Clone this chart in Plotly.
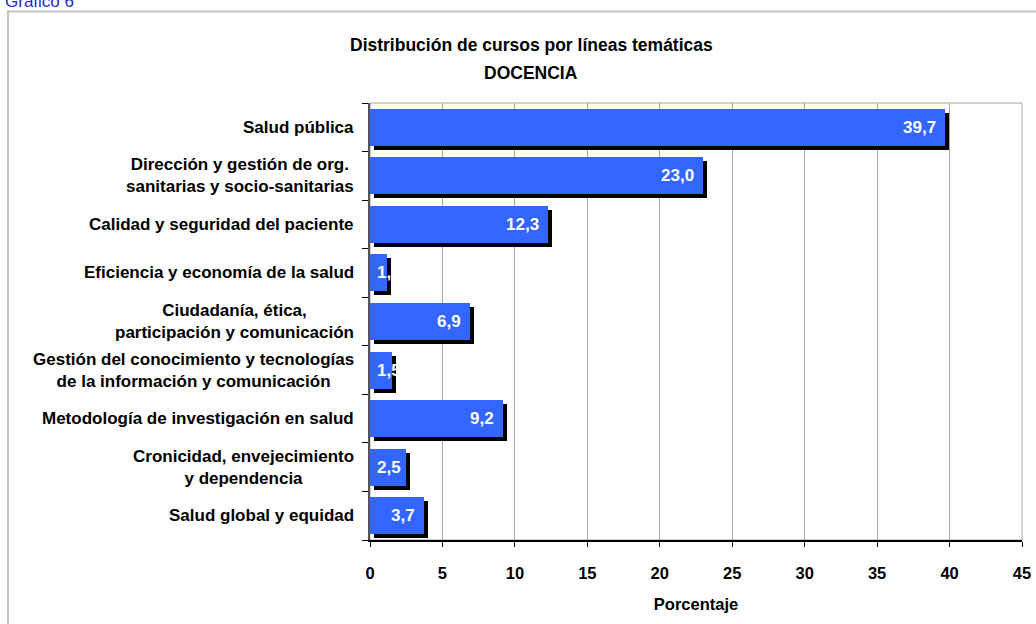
import plotly.graph_objects as go

# ---- data ----
categorias = [
    "Salud pública",
    "Dirección y gestión de org.<br>sanitarias y socio-sanitarias",
    "Calidad y seguridad del paciente",
    "Eficiencia y economía de la salud",
    "Ciudadanía, ética,<br>participación y comunicación",
    "Gestión del conocimiento y tecnologías<br>de la información y comunicación",
    "Metodología de investigación en salud",
    "Cronicidad, envejecimiento<br>y dependencia",
    "Salud global y equidad",
]
valores = [39.7, 23.0, 12.3, 1.2, 6.9, 1.5, 9.2, 2.5, 3.7]
etiquetas = ["39,7", "23,0", "12,3", "1,2", "6,9", "1,5", "9,2", "2,5", "3,7"]
x_ticks = [0, 5, 10, 15, 20, 25, 30, 35, 40, 45]

titulo1 = "Distribución de cursos por líneas temáticas"
titulo2 = "DOCENCIA"
titulo_x = "Porcentaje"
rotulo = "Gráfico 6"

# ---- layout constants ----
W, H = 1036, 624
ML, MR, MT, MB = 370, 14, 103, 84
PW = W - ML - MR
PH = H - MT - MB
FONT = "Liberation Sans, Arial, sans-serif"
BLUE = "#3366FF"
BAR_W = 0.76
px_per_unit = PW / (x_ticks[-1] - x_ticks[0])

pos = list(range(len(categorias)))

fig = go.Figure()

# shadow bars
fig.add_trace(go.Bar(
    y=pos, x=valores, base=[4 / px_per_unit] * len(valores),
    orientation="h", width=BAR_W, offset=-BAR_W / 2 + 4 / (PH / len(pos)),
    marker=dict(color="black", line=dict(width=0)),
    hoverinfo="skip", showlegend=False,
))
# main bars
fig.add_trace(go.Bar(
    y=pos, x=valores, orientation="h", width=BAR_W,
    marker=dict(color=BLUE, line=dict(width=0)),
    showlegend=False,
))

annotations = []
LBL = 17
# data labels (inside end; left-aligned when the bar is too short)
for p, v, t in zip(pos, valores, etiquetas):
    tw = len(t) * 0.5 * LBL
    if v * px_per_unit - 14 >= tw:
        annotations.append(dict(x=v, y=p, xref="x", yref="y", text=f"<b>{t}</b>",
                                xanchor="right", xshift=-7, showarrow=False,
                                font=dict(family=FONT, size=LBL, color="white")))
    else:
        annotations.append(dict(x=0, y=p, xref="x", yref="y", text=f"<b>{t}</b>",
                                xanchor="left", xshift=5, showarrow=False,
                                font=dict(family=FONT, size=LBL, color="white")))

# category labels (centered lines, right-aligned block)
for p, c in zip(pos, categorias):
    annotations.append(dict(x=0, y=p, xref="paper", yref="y", text=f"<b>{c}</b>",
                            xanchor="right", xshift=-14, align="center", showarrow=False,
                            font=dict(family=FONT, size=17, color="black")))

# title
tx = (531 - ML) / PW
annotations.append(dict(x=tx, y=1, xref="paper", yref="paper", yshift=MT - 45,
                        text=f"<b>{titulo1}</b>", showarrow=False,
                        xanchor="center", yanchor="middle",
                        font=dict(family=FONT, size=17.5, color="black")))
annotations.append(dict(x=tx, y=1, xref="paper", yref="paper", yshift=MT - 73,
                        text=f"<b>{titulo2}</b>", showarrow=False,
                        xanchor="center", yanchor="middle",
                        font=dict(family=FONT, size=17.5, color="black")))
# corner label (cut off at the top)
annotations.append(dict(x=(3 - ML) / PW, y=1, xref="paper", yref="paper", yshift=MT - 1,
                        text=rotulo, showarrow=False, xanchor="left", yanchor="middle",
                        font=dict(family=FONT, size=17, color="#1f2ccc")))

shapes = [
    # plot-area border
    dict(type="rect", xref="paper", yref="paper", x0=0, x1=1, y0=0, y1=1,
         line=dict(color="#a6a6a6", width=1), layer="below"),
    # outer frame
    dict(type="path", xref="paper", yref="paper",
         path=f"M {(8 - ML) / PW} -1 L {(8 - ML) / PW} {(H - MB - 11.5) / PH} L 2 {(H - MB - 11.5) / PH}",
         line=dict(color="#c4c4c4", width=2)),
]

fig.update_layout(
    width=W, height=H,
    margin=dict(l=ML, r=MR, t=MT, b=MB, pad=0),
    paper_bgcolor="white", plot_bgcolor="white",
    barmode="overlay", bargap=0,
    showlegend=False,
    annotations=annotations,
    shapes=shapes,
    font=dict(family=FONT, color="black"),
    xaxis=dict(
        range=[x_ticks[0], x_ticks[-1]], tickvals=x_ticks,
        ticktext=[f"<b>{v}</b>" for v in x_ticks],
        tickfont=dict(family=FONT, size=16.5, color="black"),
        ticklabelstandoff=12, ticklabeloverflow="allow",
        showgrid=True, gridcolor="#a6a6a6", gridwidth=1,
        showline=True, linecolor="black", linewidth=1.5,
        ticks="outside", ticklen=5, tickcolor="black",
        zeroline=False, fixedrange=True, automargin=False,
        title=dict(text=f"<b>{titulo_x}</b>", font=dict(family=FONT, size=16.5, color="black"),
                   standoff=18),
    ),
    yaxis=dict(
        range=[len(pos) - 0.5, -0.5],
        tickvals=[i - 0.5 for i in range(len(pos) + 1)],
        ticktext=[""] * (len(pos) + 1),
        showgrid=False, zeroline=False, automargin=False,
        showline=True, linecolor="#555555", linewidth=1.5,
        ticks="outside", ticklen=6, tickcolor="black",
        fixedrange=True,
    ),
)

fig.write_html("out.html", config={"displayModeBar": False},
               post_script="document.body.style.margin='0';document.body.style.overflow='hidden';")
